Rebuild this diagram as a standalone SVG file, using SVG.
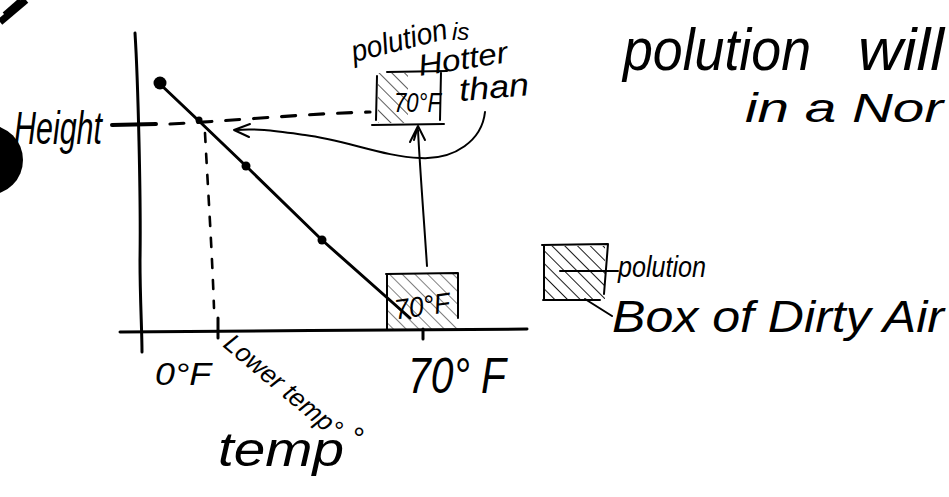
<svg xmlns="http://www.w3.org/2000/svg" width="949" height="497" viewBox="0 0 949 497">
  <style>
    .ink { fill: none; stroke: #000; stroke-width: 3; stroke-linecap: round; stroke-linejoin: round; }
    .thin { fill: none; stroke: #000; stroke-width: 2; stroke-linecap: round; stroke-linejoin: round; }
    .dash { fill: none; stroke: #000; stroke-width: 3.2; stroke-linecap: round; stroke-dasharray: 14 14; }
    .vdash { fill: none; stroke: #000; stroke-width: 2.6; stroke-linecap: round; stroke-dasharray: 9 12; }
    .hand { font-family: "Liberation Sans", "DejaVu Sans", sans-serif; font-style: italic; fill: #000; }
  </style>
  <defs>
    <pattern id="hatch" width="9" height="9" patternUnits="userSpaceOnUse" patternTransform="rotate(-45)">
      <line x1="0" y1="0" x2="0" y2="9" stroke="#000" stroke-width="1.8"/>
    </pattern>
  </defs>

  <rect width="949" height="497" fill="#fff"/>

  <!-- corner marks -->
  <g id="corner-marks">
    <path d="M0,22 L26,0" stroke="#000" stroke-width="7" fill="none"/>
    <path d="M4,14 L20,0" stroke="#000" stroke-width="4" fill="none"/>
    <circle cx="-12" cy="160" r="35" fill="#000"/>
  </g>

  <!-- axes -->
  <g id="axes">
    <path class="ink" d="M135,33 C138,80 141,200 140,260 C140,300 142,330 142,352"/>
    <path class="ink" d="M120,332 C250,331 400,330 527,329"/>
    <path class="ink" d="M218,318 L218,338"/>
    <path class="ink" d="M423,329 L423,339"/>
  </g>

  <!-- data line with points -->
  <g id="curve">
    <path class="ink" d="M160,84 L199,121 L246,166 L322,240 L410,318"/>
    <circle cx="160" cy="83" r="6.5" fill="#000"/>
    <circle cx="199" cy="120" r="3.5" fill="#000"/>
    <circle cx="246" cy="166" r="4.5" fill="#000"/>
    <circle cx="322" cy="240" r="4.5" fill="#000"/>
  </g>

  <!-- guide lines -->
  <g id="guides">
    <path d="M112,125 L156,124" stroke="#000" stroke-width="4" stroke-linecap="round"/>
    <path class="dash" d="M170,124 C230,121 300,114 370,112"/>
    <path class="vdash" d="M205,133 C208,190 212,250 214,308"/>
  </g>

  <!-- connectors between the boxes and the line -->
  <g id="connectors">
    <path class="thin" d="M427,266 C424,220 420,170 418,130"/>
    <path class="thin" d="M410,142 L418,126 L425,140 M414,140 L418,126"/>
    <path class="thin" d="M485,112 C482,140 455,160 420,158 C385,157 345,140 305,135 C275,131 255,128 236,130"/>
    <path class="thin" d="M250,124 L234,130 L249,137"/>
  </g>

  <!-- box of dirty air, lower -->
  <g id="box-low">
    <rect x="387" y="274" width="71" height="55" fill="url(#hatch)" opacity="0.55"/>
    <path class="thin" d="M386,274 L458,273 L458,318 M387,274 L387,329"/>
    <text class="hand" x="394" y="316" font-size="28" textLength="56" lengthAdjust="spacingAndGlyphs" transform="rotate(-8 420 305)">70°F</text>
  </g>

  <!-- box of dirty air, upper -->
  <g id="box-high">
    <rect x="378" y="73" width="30" height="50" fill="url(#hatch)" opacity="0.7"/>
    <path class="thin" d="M387,72 L447,71 M377,76 L376,120 M441,72 L440,120 M372,125 L444,124"/>
    <text class="hand" x="394" y="112" font-size="27" textLength="47" lengthAdjust="spacingAndGlyphs">70°F</text>
  </g>

  <!-- notes -->
  <g id="notes">
    <text class="hand" x="14" y="144" font-size="46" textLength="88" lengthAdjust="spacingAndGlyphs">Height</text>
    <text class="hand" x="354" y="62" font-size="30" textLength="98" lengthAdjust="spacingAndGlyphs" transform="rotate(-14 354 62)">polution</text>
    <text class="hand" x="452" y="40" font-size="24">is</text>
    <text class="hand" x="420" y="76" font-size="30" textLength="90" lengthAdjust="spacingAndGlyphs" transform="rotate(-9 420 76)">Hotter</text>
    <text class="hand" x="460" y="101" font-size="32" textLength="70" lengthAdjust="spacingAndGlyphs" transform="rotate(-5 460 101)">than</text>

    <text class="hand" x="623" y="70" font-size="60" textLength="188" lengthAdjust="spacingAndGlyphs">polution</text>
    <text class="hand" x="858" y="70" font-size="60" textLength="86" lengthAdjust="spacingAndGlyphs">will</text>
    <text class="hand" x="745" y="122" font-size="40" textLength="198" lengthAdjust="spacingAndGlyphs">in a Nor</text>

    <text class="hand" x="155" y="385" font-size="32" textLength="56" lengthAdjust="spacingAndGlyphs">0°F</text>
    <text class="hand" x="222" y="346" font-size="26" textLength="145" lengthAdjust="spacingAndGlyphs" transform="rotate(40 222 346)">Lower temp°</text>
    <text class="hand" x="218" y="466" font-size="48" textLength="126" lengthAdjust="spacingAndGlyphs">temp</text>
    <text class="hand" x="352" y="448" font-size="30">°</text>
    <text class="hand" x="408" y="393" font-size="50" textLength="98" lengthAdjust="spacingAndGlyphs">70° F</text>
  </g>

  <!-- legend -->
  <g id="legend">
    <rect x="543" y="246" width="62" height="53" fill="url(#hatch)"/>
    <path class="thin" d="M542,245 L608,244 L604,294 M544,246 L544,300 M543,300 L600,300 M560,271 L618,271 M585,299 L612,316"/>
    <text class="hand" x="618" y="277" font-size="30" textLength="88" lengthAdjust="spacingAndGlyphs">polution</text>
    <text class="hand" x="612" y="332" font-size="44" textLength="332" lengthAdjust="spacingAndGlyphs">Box of Dirty Air</text>
  </g>
</svg>
